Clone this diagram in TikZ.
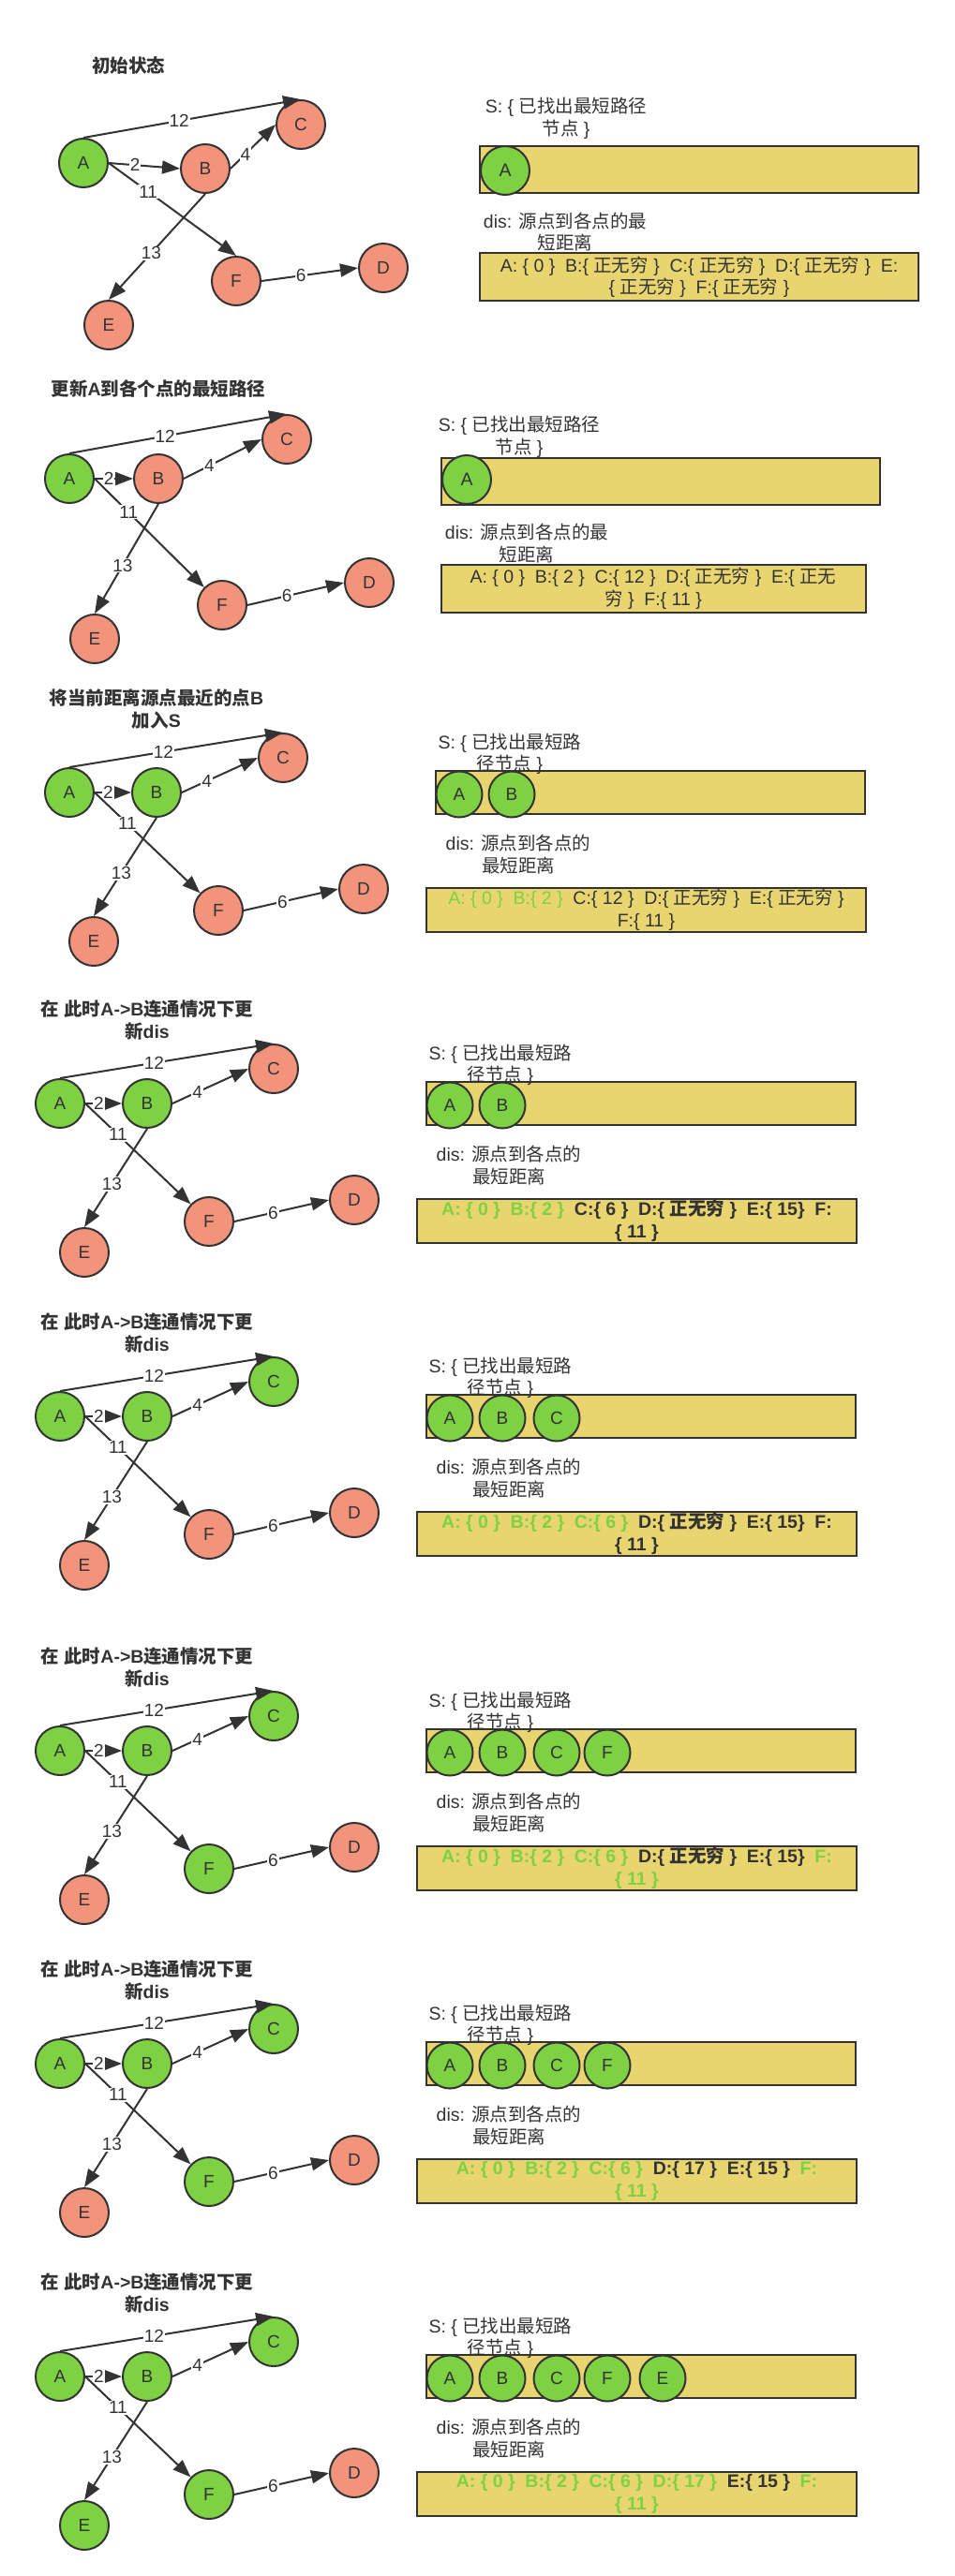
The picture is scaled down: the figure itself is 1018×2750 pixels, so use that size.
\documentclass[tikz,border=0pt]{standalone}
\usepackage{fontspec}
\setmainfont{Liberation Sans}
\newfontfamily\zhfont{Noto Sans CJK SC}
\newcommand\zh[1]{{\zhfont #1}}
\newcommand\gap{\hspace{0.55em}}
\usetikzlibrary{arrows.meta}
\definecolor{dk}{HTML}{333333}
\definecolor{gn}{HTML}{7DD142}
\definecolor{rd}{HTML}{F2937B}
\definecolor{yl}{HTML}{E8D570}
\tikzset{
  gnode/.style={circle, draw=dk, line width=2pt, minimum size=52pt, inner sep=0pt, text=dk, font=\fontsize{19}{19}\selectfont},
  edge/.style={draw=dk, line width=2pt, -{Triangle[length=19pt,width=14pt]}},
  elab/.style={fill=white, inner sep=1pt, text=dk, font=\fontsize{19}{19}\selectfont},
  ttl/.style={text=dk, font=\fontsize{19.5}{24}\selectfont\bfseries, align=center, inner sep=0pt},
  txt/.style={text=dk, align=center, inner sep=0pt},
  ybox/.style={rectangle, fill=yl, draw=dk, line width=2pt},
  snode/.style={circle, draw=dk, line width=2pt, fill=gn, inner sep=0pt, text=dk},
}
% graph nodes in the standard layout (panel 4 base coordinates)
\newcommand\netnodes[7]{%
  \node[gnode,fill=#2] (#1A) at (64,1178) {A};
  \node[gnode,fill=#3] (#1B) at (157,1178) {B};
  \node[gnode,fill=#4] (#1C) at (292,1141) {C};
  \node[gnode,fill=#5] (#1D) at (378,1281) {D};
  \node[gnode,fill=#6] (#1E) at (90,1337) {E};
  \node[gnode,fill=#7] (#1F) at (223,1304) {F};
}
\newcommand\netedges[2]{%
  \draw[edge] (#1A.north) -- node[elab,pos=0.44]{12} (#1C.north);
  \draw[edge] (#1A.east) -- node[elab,pos=0.37]{2} (#1B.west);
  \draw[edge] (#1B.east) -- node[elab,pos=0.33]{4} (#1C.west);
  \draw[edge] (#1A.east) -- node[elab,pos=0.31]{11} (#2);
  \draw[edge] (#1B.south) -- node[elab,pos=0.56]{13} (#1E.north);
  \draw[edge] (#1F.east) -- node[elab,pos=0.41]{6} (#1D.west);
}
% standard right-hand side: #1 prefix, #2 series, #3 dis content
\newcommand\stdright[3]{%
  \node[ybox,minimum width=458pt,minimum height=46pt] (#1sbox) at (684,1178) {};
  \node[txt,font=\fontsize{19.5}{22.5}\selectfont] (#1stxt) at (534,1137) {S: \{ \zh{已找出最短路}\\\zh{径节点} \}};
  \node[txt,font=\fontsize{19.5}{24}\selectfont] (#1dtxt) at (543,1244) {dis: \zh{源点到各点的}\\\zh{最短距离}};
  \node[ybox,txt,minimum width=469pt,minimum height=47pt,font={\fontsize{19.5}{24}\selectfont#2}] (#1dbox) at (679.5,1303.5) {#3};
}
\newcommand\scirc[3]{\node[snode,minimum size=49pt,font=\fontsize{19}{19}\selectfont] (#1) at (#2,1180) {#3};}
\begin{document}
\begin{tikzpicture}[x=1pt,y=-1pt]
\fill[white] (0,0) rectangle (1018,2750);
\useasboundingbox (0,0) rectangle (1018,2750);

% ---------------- Panel 1
\node[ttl] (p1t) at (137,70) {\zh{初始状态}};
\node[gnode,fill=gn] (p1A) at (89,174) {A};
\node[gnode,fill=rd] (p1B) at (219,180) {B};
\node[gnode,fill=rd] (p1C) at (321,133) {C};
\node[gnode,fill=rd] (p1D) at (409,286) {D};
\node[gnode,fill=rd] (p1E) at (116,347) {E};
\node[gnode,fill=rd] (p1F) at (252,300) {F};
\netedges{p1}{p1F.north}
\node[ybox,minimum width=468pt,minimum height=50pt] (p1sbox) at (746,181) {};
\node[txt,font=\fontsize{19.5}{24}\selectfont] (p1stxt) at (604,126) {S: \{ \zh{已找出最短路径}\\\zh{节点} \}};
\node[snode,minimum size=52pt,font=\fontsize{19.5}{19.5}\selectfont] (p1sA) at (539,182) {A};
\node[txt,font=\fontsize{19.5}{23}\selectfont] (p1dtxt) at (603,247.5) {dis: \zh{源点到各点的最}\\\zh{短距离}};
\node[ybox,txt,minimum width=468pt,minimum height=51pt,font=\fontsize{19.5}{23.5}\selectfont] (p1dbox) at (746,295.5)
 {A: \{ 0 \}\gap B:\{ \zh{正无穷} \}\gap C:\{ \zh{正无穷} \}\gap D:\{ \zh{正无穷} \}\gap E:\\\{ \zh{正无穷} \}\gap F:\{ \zh{正无穷} \}};

% ---------------- Panel 2
\node[ttl] (p2t) at (169,415) {\zh{更新}A\zh{到各个点的最短路径}};
\node[gnode,fill=gn] (p2A) at (74,511) {A};
\node[gnode,fill=rd] (p2B) at (169,511) {B};
\node[gnode,fill=rd] (p2C) at (306,469) {C};
\node[gnode,fill=rd] (p2D) at (394,622) {D};
\node[gnode,fill=rd] (p2E) at (101,682) {E};
\node[gnode,fill=rd] (p2F) at (237,646) {F};
\netedges{p2}{p2F}
\node[ybox,minimum width=468pt,minimum height=50pt] (p2sbox) at (704.5,514) {};
\node[txt,font=\fontsize{19.5}{24}\selectfont] (p2stxt) at (554,466) {S: \{ \zh{已找出最短路径}\\\zh{节点} \}};
\node[snode,minimum size=52pt,font=\fontsize{19.5}{19.5}\selectfont] (p2sA) at (498,512) {A};
\node[txt,font=\fontsize{19.5}{24}\selectfont] (p2dtxt) at (562,580) {dis: \zh{源点到各点的最}\\\zh{短距离}};
\node[ybox,txt,minimum width=453pt,minimum height=51pt,font=\fontsize{19.5}{24}\selectfont] (p2dbox) at (697,628.5)
 {A: \{ 0 \}\gap B:\{ 2 \}\gap C:\{ 12 \}\gap D:\{ \zh{正无穷} \}\gap E:\{ \zh{正无}\\\zh{穷} \}\gap F:\{ 11 \}};

% ---------------- Panel 3
\begin{scope}[shift={(10,-332)}]
\node[ttl] (p3t) at (157,1089) {\zh{将当前距离源点最近的点}B\\\zh{加入}S};
\netnodes{p3}{gn}{gn}{rd}{rd}{rd}{rd}
\netedges{p3}{p3F}
\stdright{p3}{\mdseries}{\textcolor{gn}{A: \{ 0 \}\gap B:\{ 2 \}}\gap C:\{ 12 \}\gap D:\{ \zh{正无穷} \}\gap E:\{ \zh{正无穷} \}\\F:\{ 11 \}}
\scirc{p3sA}{480}{A}
\scirc{p3sB}{536}{B}
\end{scope}

% ---------------- Panel 4
\begin{scope}
\node[ttl] (p4t) at (157,1089) {\zh{在} \zh{此时}A->B\zh{连通情况下更}\\\zh{新}dis};
\netnodes{p4}{gn}{gn}{rd}{rd}{rd}{rd}
\netedges{p4}{p4F}
\stdright{p4}{\bfseries}{\textcolor{gn}{A: \{ 0 \}\gap B:\{ 2 \}}\gap C:\{ 6 \}\gap D:\{ \zh{正无穷} \}\gap E:\{ 15\}\gap F:\\\{ 11 \}}
\scirc{p4sA}{480}{A}
\scirc{p4sB}{536}{B}
\end{scope}

% ---------------- Panel 5
\begin{scope}[shift={(0,334)}]
\node[ttl] (p5t) at (157,1089) {\zh{在} \zh{此时}A->B\zh{连通情况下更}\\\zh{新}dis};
\netnodes{p5}{gn}{gn}{gn}{rd}{rd}{rd}
\netedges{p5}{p5F}
\stdright{p5}{\bfseries}{\textcolor{gn}{A: \{ 0 \}\gap B:\{ 2 \}\gap C:\{ 6 \}}\gap D:\{ \zh{正无穷} \}\gap E:\{ 15\}\gap F:\\\{ 11 \}}
\scirc{p5sA}{480}{A}
\scirc{p5sB}{536}{B}
\scirc{p5sC}{594}{C}
\end{scope}

% ---------------- Panel 6
\begin{scope}[shift={(0,691)}]
\node[ttl] (p6t) at (157,1089) {\zh{在} \zh{此时}A->B\zh{连通情况下更}\\\zh{新}dis};
\netnodes{p6}{gn}{gn}{gn}{rd}{rd}{gn}
\netedges{p6}{p6F}
\stdright{p6}{\bfseries}{\textcolor{gn}{A: \{ 0 \}\gap B:\{ 2 \}\gap C:\{ 6 \}}\gap D:\{ \zh{正无穷} \}\gap E:\{ 15\}\gap \textcolor{gn}{F:}\\\textcolor{gn}{\{ 11 \}}}
\scirc{p6sA}{480}{A}
\scirc{p6sB}{536}{B}
\scirc{p6sC}{594}{C}
\scirc{p6sF}{648}{F}
\end{scope}

% ---------------- Panel 7
\begin{scope}[shift={(0,1025)}]
\node[ttl] (p7t) at (157,1089) {\zh{在} \zh{此时}A->B\zh{连通情况下更}\\\zh{新}dis};
\netnodes{p7}{gn}{gn}{gn}{rd}{rd}{gn}
\netedges{p7}{p7F}
\stdright{p7}{\bfseries}{\textcolor{gn}{A: \{ 0 \}\gap B:\{ 2 \}\gap C:\{ 6 \}}\gap D:\{ 17 \}\gap E:\{ 15 \}\gap \textcolor{gn}{F:}\\\textcolor{gn}{\{ 11 \}}}
\scirc{p7sA}{480}{A}
\scirc{p7sB}{536}{B}
\scirc{p7sC}{594}{C}
\scirc{p7sF}{648}{F}
\end{scope}

% ---------------- Panel 8
\begin{scope}[shift={(0,1359)}]
\node[ttl] (p8t) at (157,1089) {\zh{在} \zh{此时}A->B\zh{连通情况下更}\\\zh{新}dis};
\netnodes{p8}{gn}{gn}{gn}{rd}{gn}{gn}
\netedges{p8}{p8F}
\stdright{p8}{\bfseries}{\textcolor{gn}{A: \{ 0 \}\gap B:\{ 2 \}\gap C:\{ 6 \}\gap D:\{ 17 \}}\gap E:\{ 15 \}\gap \textcolor{gn}{F:}\\\textcolor{gn}{\{ 11 \}}}
\scirc{p8sA}{480}{A}
\scirc{p8sB}{536}{B}
\scirc{p8sC}{594}{C}
\scirc{p8sF}{648}{F}
\scirc{p8sE}{707}{E}
\end{scope}
\end{tikzpicture}
\end{document}
